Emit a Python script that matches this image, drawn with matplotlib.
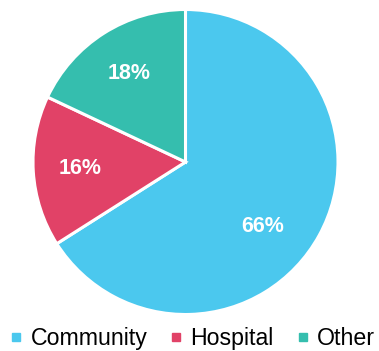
import matplotlib
matplotlib.use("Agg")
import matplotlib.pyplot as plt
from matplotlib.lines import Line2D
import numpy as np

plt.rcParams['font.family'] = ['Liberation Sans', 'DejaVu Sans']

categories = ["Community", "Hospital", "Other"]
shares = [66, 16, 18]
colors = ["#4BC8EE", "#E14267", "#35BEAE"]

W, H = 379, 351
fig = plt.figure(figsize=(W / 100, H / 100), dpi=100)

cx, cy, r = 185.5, 162.0, 152.5
ax = fig.add_axes([(cx - r) / W, (H - cy - r) / H, 2 * r / W, 2 * r / H])

wedges, texts, autotexts = ax.pie(
    shares, colors=colors, startangle=90, counterclock=False,
    autopct=lambda p: f"{p:.0f}%", pctdistance=0.69,
    wedgeprops=dict(edgecolor="white", linewidth=2.2),
    textprops=dict(color="white", fontsize=15.5, fontweight="bold"),
)
# nudge the large slice's label toward the lower right
ang = np.deg2rad(-39.5)
autotexts[0].set_position((0.66 * np.cos(ang), 0.66 * np.sin(ang)))

ax.set_xlim(-1, 1)
ax.set_ylim(-1, 1)
ax.set_aspect('auto')
ax.axis('off')

handles = [Line2D([], [], marker='s', linestyle='none', markersize=5.5,
                  markerfacecolor=c, markeredgecolor=c) for c in colors]
fig.legend(handles, categories, ncol=3, loc='lower center',
           bbox_to_anchor=(0.51, 0.002), frameon=False, fontsize=16.7,
           handlelength=0.4, handletextpad=0.41, columnspacing=1.05,
           borderpad=0, borderaxespad=0)

fig.savefig("out.png", dpi=100)
